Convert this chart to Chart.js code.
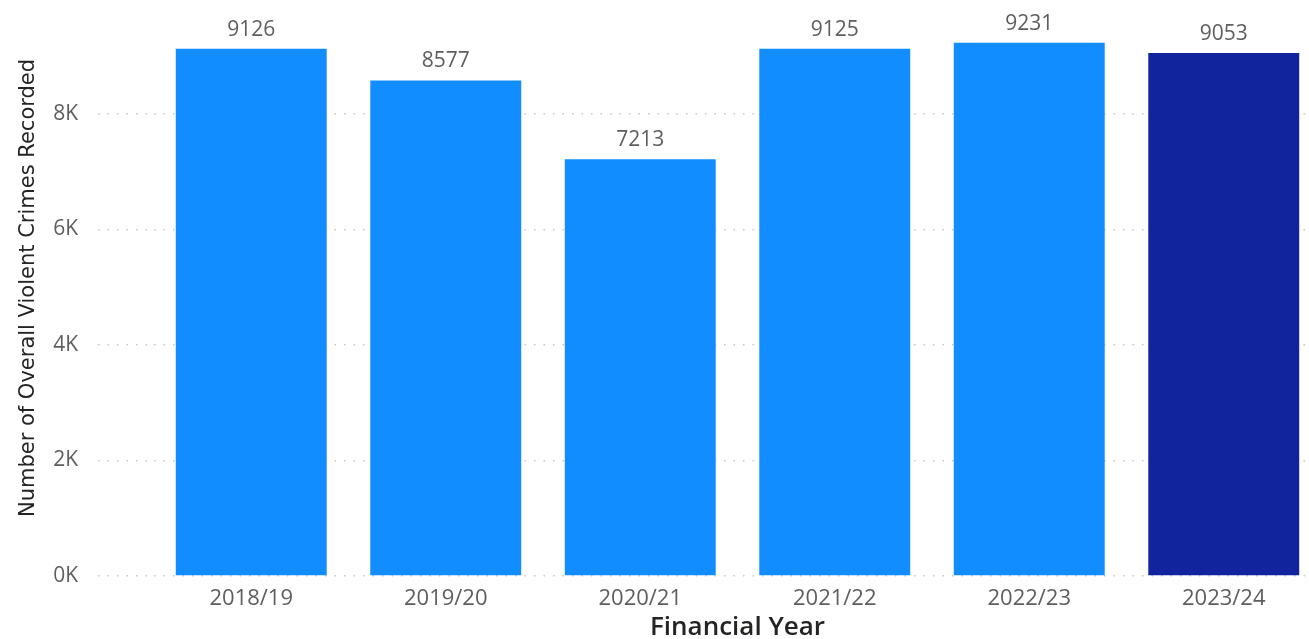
<!DOCTYPE html>
<html>
<head>
<meta charset="utf-8">
<script src="https://cdn.jsdelivr.net/npm/chart.js@4"></script>
<style>
  html, body { margin: 0; padding: 0; background: #fff; overflow: hidden; }
  #wrap { width: 1322px; height: 639px; }
</style>
</head>
<body>
<div id="wrap"><canvas id="crimeChart"></canvas></div>
<script>
// Financial years and recorded totals
const years = ['2018/19', '2019/20', '2020/21', '2021/22', '2022/23', '2023/24'];
const crimes = [9126, 8577, 7213, 9125, 9231, 9053];
const barColors = ['#118DFF', '#118DFF', '#118DFF', '#118DFF', '#118DFF', '#12239E'];
const yTicks = [0, 2000, 4000, 6000, 8000];

// Value labels drawn above each bar
const valueLabels = {
    id: 'valueLabels',
    afterDatasetsDraw(chart) {
        const ctx = chart.ctx;
        const meta = chart.getDatasetMeta(0);
        ctx.save();
        ctx.font = '21px "Open Sans"';
        ctx.fillStyle = '#605E5C';
        ctx.textAlign = 'center';
        ctx.textBaseline = 'middle';
        meta.data.forEach((bar, i) => {
            ctx.fillText(String(crimes[i]), bar.x, bar.y - 19);
        });
        ctx.restore();
    }
};

const ctx = document.getElementById('crimeChart');
new Chart(ctx, {
    type: 'bar',
    data: {
        labels: years,
        datasets: [{
            label: 'Overall Violent Crimes',
            data: crimes,
            backgroundColor: barColors,
            borderWidth: 0,
            barPercentage: 0.776,
            categoryPercentage: 1
        }]
    },
    options: {
        responsive: true,
        maintainAspectRatio: false,
        animation: false,
        layout: { padding: { top: 0, right: 1, bottom: 0, left: 0 } },
        plugins: {
            legend: { display: false },
            tooltip: { enabled: false }
        },
        scales: {
            x: {
                grid: { display: false },
                border: { display: false },
                ticks: {
                    color: '#605E5C',
                    font: { family: 'Open Sans', size: 22 },
                    padding: 2,
                    maxRotation: 0
                },
                title: {
                    display: true,
                    text: 'Financial Year',
                    color: '#252423',
                    font: { family: 'Open Sans', size: 26, weight: '600' },
                    padding: { top: 0, bottom: -4 }
                },
                afterFit: (scale) => { scale.height = 63; }
            },
            y: {
                min: 0,
                max: 9970,
                border: { display: false, dash: [1.5, 8] },
                grid: {
                    color: '#C8C6C4',
                    lineWidth: 1.5,
                    tickBorderDash: [1.5, 8],
                    tickColor: '#C8C6C4',
                    tickLength: 56
                },
                ticks: {
                    color: '#605E5C',
                    font: { family: 'Open Sans', size: 21 },
                    padding: 20,
                    callback: (v) => (v / 1000) + 'K'
                },
                afterBuildTicks: (scale) => {
                    scale.ticks = yTicks.map(v => ({ value: v }));
                },
                title: {
                    display: true,
                    text: 'Number of Overall Violent Crimes Recorded',
                    color: '#252423',
                    font: { family: 'DejaVu Sans', size: 21 },
                    padding: { top: 16, bottom: 0 }
                },
                // fixed axis width; no extra room above the plot for tick labels
                afterFit: (scale) => {
                    scale.width = 154;
                    scale.paddingTop = 0;
                    scale.paddingBottom = 0;
                }
            }
        }
    },
    plugins: [valueLabels]
});
</script>
</body>
</html>
